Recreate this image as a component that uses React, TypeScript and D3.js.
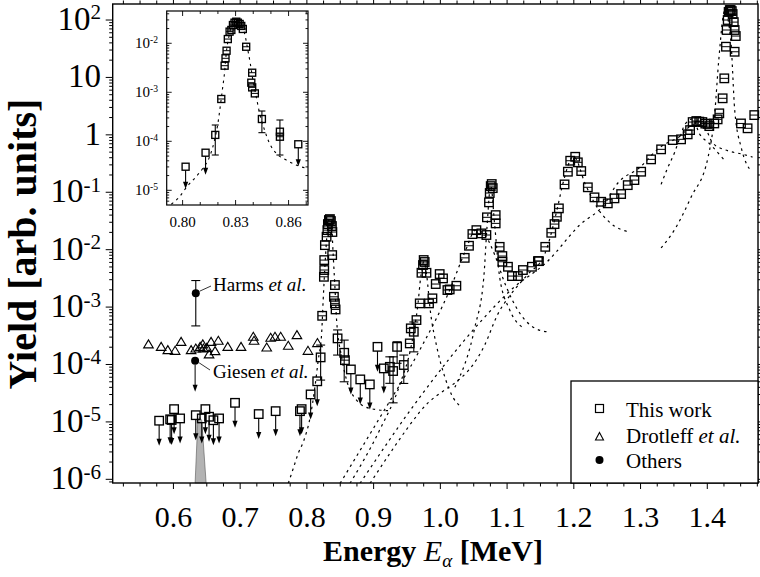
import React from 'react';
import * as d3 from 'd3';

const W = 760;
const H = 577;

// This work, main panel: [E (MeV), yield]
const workPoints: [number, number][] = [
  [0.8229, 7.05e-4], [0.8255, 3.37e-3], [0.826, 4.42e-3], [0.826, 6.59e-3], [0.827, 1.2e-2],
  [0.8295, 1.68e-2], [0.8307, 2.19e-2], [0.8315, 2.79e-2], [0.833, 3.28e-2], [0.8345, 3.41e-2],
  [0.836, 3.15e-2], [0.8375, 2.58e-2], [0.8382, 2.03e-2], [0.8379, 8.05e-3], [0.842, 2.42e-3],
  [0.8405, 1.51e-3], [0.842, 1.16e-3], [0.843, 9.1e-4], [0.857, 1.19e-4],
  [0.9542, 2.33e-4], [0.9557, 4.26e-4], [0.9642, 5.94e-4], [0.9691, 1.16e-3], [0.9717, 3.96e-3],
  [0.974, 5.4e-3], [0.975, 6.6e-3], [0.9765, 6.1e-3], [0.9792, 3.96e-3], [0.983, 1.16e-3],
  [0.9881, 1.42e-3], [0.9931, 2.52e-3], [0.999, 3.76e-3], [1.004, 3.16e-3], [1.0106, 1.98e-3],
  [1.014, 2.03e-3], [1.024, 2.35e-3], [1.0365, 7.2e-3], [1.0429, 1.17e-2], [1.048, 1.87e-2],
  [1.054, 2.19e-2], [1.0615, 1.92e-2], [1.069, 1.8e-2], [1.0698, 3.66e-2], [1.0729, 6.67e-2],
  [1.074, 9.7e-2], [1.0755, 0.128], [1.077, 0.139], [1.0785, 0.118], [1.0829, 4.0e-2],
  [1.0829, 2.87e-2], [1.0889, 1.12e-2], [1.0929, 7.74e-3], [1.0929, 6.16e-3], [1.1013, 5.04e-3],
  [1.1073, 3.47e-3], [1.1162, 3.47e-3], [1.1237, 4.42e-3], [1.1372, 5.04e-3], [1.1462, 6.32e-3],
  [1.1477, 6.32e-3], [1.1572, 1.12e-2], [1.1662, 1.97e-2], [1.1711, 2.79e-2], [1.1746, 3.74e-2],
  [1.1776, 5.24e-2], [1.1861, 0.137], [1.1911, 0.228], [1.1946, 0.354], [1.2021, 0.415],
  [1.206, 0.332], [1.2111, 0.234], [1.221, 0.122], [1.231, 8.15e-2], [1.241, 6.83e-2],
  [1.2509, 6.41e-2], [1.2609, 7.83e-2], [1.2709, 9.31e-2], [1.2808, 0.133], [1.2908, 0.163],
  [1.3009, 0.228], [1.3158, 0.374], [1.3308, 0.559], [1.3482, 0.811], [1.3607, 0.835],
  [1.3706, 1.02], [1.3742, 1.21], [1.3781, 1.67], [1.3836, 1.74], [1.388, 1.7], [1.3926, 1.67],
  [1.397, 1.57], [1.4005, 1.55], [1.403, 1.42], [1.4105, 1.58], [1.4155, 1.86], [1.418, 2.37],
  [1.423, 4.33], [1.4255, 9.64], [1.428, 34.3], [1.429, 67], [1.4306, 100], [1.432, 138],
  [1.4337, 149], [1.435, 149], [1.4367, 143], [1.438, 127], [1.4397, 92], [1.441, 67],
  [1.4427, 52.6], [1.441, 28], [1.4505, 1.58], [1.4604, 1.3], [1.4704, 2.21],
];

// [E, yield, low, high]
const workErrors: [number, number, number, number][] = [
  [0.8206, 1.33e-4, 5.35e-5, 2.18e-4],
  [0.846, 2.85e-4, 1.46e-4, 4.0e-4],
  [0.8559, 1.6e-4, 5.0e-5, 2.66e-4],
  [0.9243, 9.1e-5, 4.7e-5, 1.36e-4],
  [0.9292, 7.7e-5, 2.15e-5, 1.36e-4],
  [0.9352, 2.03e-4, 1.05e-4, 2.49e-4],
  [0.9452, 9.8e-5, 4.68e-5, 1.46e-4],
  [0.9602, 3.72e-4, 1.66e-4, 5.5e-4],
];

// upper limits
const workLimits: [number, number][] = [
  [0.5786, 1.05e-5], [0.5951, 1.11e-5], [0.5973, 1.08e-5], [0.601, 1.67e-5], [0.61, 1.15e-5],
  [0.6335, 1.31e-5], [0.6425, 1.15e-5], [0.6479, 1.67e-5], [0.6534, 1.23e-5], [0.6599, 1.07e-5],
  [0.6684, 1.15e-5], [0.6923, 2.15e-5], [0.7278, 1.37e-5], [0.7532, 1.54e-5], [0.7896, 1.54e-5],
  [0.7921, 1.67e-5], [0.8056, 3.01e-5], [0.8155, 5.1e-5], [0.8659, 8.2e-5], [0.88, 5.5e-5],
  [0.8943, 4.5e-5], [0.9058, 2.03e-4], [0.9153, 8.55e-5],
];

const drotleff: [number, number][] = [
  [0.5626, 2.24e-4], [0.5816, 2.03e-4], [0.5916, 1.78e-4], [0.6025, 1.73e-4], [0.6115, 2.48e-4],
  [0.6265, 1.78e-4], [0.6335, 1.9e-4], [0.64, 2.03e-4], [0.644, 2.24e-4], [0.6449, 1.9e-4],
  [0.65, 1.95e-4], [0.6534, 1.5e-4], [0.6564, 2.48e-4], [0.6624, 1.71e-4], [0.6673, 2.59e-4],
  [0.6814, 2.03e-4], [0.7013, 2.03e-4], [0.7197, 3.04e-4], [0.7208, 2.59e-4], [0.7398, 1.98e-4],
  [0.7457, 2.92e-4], [0.7522, 3.04e-4], [0.7607, 3.04e-4], [0.7721, 2.12e-4], [0.7851, 3.25e-4],
  [0.8016, 1.73e-4], [0.8158, 2.36e-4],
];

const harms: [number, number, number, number] = [0.6335, 1.75e-3, 4.7e-4, 2.9e-3];
const giesen: [number, number] = [0.6325, 1.16e-4];

const greyPeak: [number, number][] = [
  [0.6325, 8e-7], [0.6365, 1.05e-5], [0.6395, 1.2e-5], [0.6425, 1.05e-5], [0.649, 8e-7],
];

// resonance fit curves
const fitCurves: [number, number][][] = [
  [[0.7721, 8.5e-7], [0.7796, 1.55e-6], [0.787, 2.83e-6], [0.7956, 4.82e-6], [0.8046, 1.16e-5],
   [0.8121, 4.09e-5], [0.817, 1.19e-4], [0.8221, 3.48e-4], [0.8244, 1.32e-3], [0.827, 5.04e-3],
   [0.8295, 1.47e-2], [0.8322, 3.03e-2], [0.8345, 3.5e-2], [0.8367, 3.03e-2], [0.8394, 8.05e-3],
   [0.842, 2.26e-3], [0.8445, 5.94e-4], [0.852, 1.36e-4], [0.8595, 5.35e-5], [0.8744, 2.4e-5],
   [0.8943, 1.72e-5], [0.9243, 1.56e-5]],
  [[0.8646, 8.5e-7], [0.9095, 7.4e-6], [0.9394, 4.5e-5], [0.9573, 2.4e-4], [0.9663, 1.1e-3],
   [0.9708, 3.5e-3], [0.9753, 6.2e-3], [0.9798, 3.4e-3], [0.9843, 1.0e-3], [0.9948, 2.0e-4],
   [1.0068, 6.0e-5], [1.0188, 2.7e-5], [1.0293, 1.9e-5]],
  [[0.8497, 8.5e-7], [0.9095, 1.2e-5], [0.9693, 1.8e-4], [1.0142, 2.0e-3], [1.0367, 9.0e-3],
   [1.0532, 2.2e-2], [1.0667, 1.8e-2], [1.0817, 8.0e-3], [1.0966, 2.6e-3], [1.1191, 7.8e-4],
   [1.1431, 4.2e-4], [1.1611, 3.7e-4]],
  [[1.0217, 4.0e-5], [1.0516, 4.4e-4], [1.0651, 3.3e-3], [1.0696, 2.2e-2], [1.0755, 0.13],
   [1.0815, 2.6e-2], [1.0889, 3.3e-3], [1.1038, 9.0e-4], [1.1261, 4.2e-4]],
  [[0.8946, 8.5e-7], [0.9693, 1.5e-5], [1.0666, 2.2e-4], [1.0860, 7.5e-4], [1.1055, 1.66e-3],
   [1.1309, 3.7e-3], [1.1563, 8.3e-3], [1.1757, 5.5e-2], [1.1832, 0.135], [1.1997, 0.42],
   [1.2176, 0.135], [1.2355, 5.3e-2], [1.2550, 2.9e-2], [1.2849, 2.0e-2]],
  [[0.8796, 8.5e-7], [0.9693, 2.7e-5], [1.0592, 5.4e-4], [1.1087, 2.13e-3], [1.1596, 6.1e-3],
   [1.2089, 2.7e-2], [1.2463, 6.3e-2], [1.2643, 0.137], [1.2987, 0.27], [1.3286, 0.6],
   [1.3586, 0.94], [1.3810, 1.55], [1.3960, 1.35], [1.4080, 0.72], [1.4304, 0.53],
   [1.4528, 0.46], [1.4678, 0.41]],
  [[1.3308, 0.137], [1.3402, 0.26], [1.3512, 0.5], [1.3587, 0.88], [1.3662, 1.5], [1.3781, 1.9],
   [1.3881, 1.05], [1.4035, 0.7], [1.4250, 0.37]],
  [[1.3308, 1.07e-2], [1.3507, 2.2e-2], [1.3757, 8.2e-2], [1.4012, 0.41], [1.4112, 2.4],
   [1.4172, 20], [1.4262, 145], [1.4352, 45], [1.4412, 2.6], [1.4512, 0.58], [1.4662, 0.23]],
];

// inset data
const insetPoints: [number, number][] = [
  [0.8219, 7.3e-4], [0.8238, 3.49e-3], [0.8243, 4.94e-3], [0.8249, 7.06e-3], [0.8256, 1.22e-2],
  [0.8266, 1.73e-2], [0.8276, 1.87e-2], [0.8285, 2.36e-2], [0.8294, 2.63e-2], [0.8304, 2.76e-2],
  [0.8313, 2.63e-2], [0.8323, 2.48e-2], [0.8332, 2.26e-2], [0.8341, 1.96e-2], [0.836, 8.5e-3],
  [0.8394, 2.51e-3], [0.8389, 1.57e-3], [0.8394, 1.26e-3], [0.8409, 9.5e-4], [0.8551, 1.24e-4],
];
const insetErrors: [number, number, number, number][] = [
  [0.8185, 1.35e-4, 5.25e-5, 2.15e-4],
  [0.8449, 2.85e-4, 1.5e-4, 4.15e-4],
  [0.8551, 1.57e-4, 5.25e-5, 2.72e-4],
];
const insetLimits: [number, number][] = [
  [0.8017, 3.03e-5], [0.813, 5.85e-5], [0.8655, 8.7e-5],
];
const insetCurve: [number, number][] = [
  [0.7936, 5.2e-6], [0.7983, 7.4e-6], [0.8024, 1.18e-5], [0.8068, 1.76e-5], [0.8115, 2.81e-5],
  [0.8153, 4.85e-5], [0.8181, 1.06e-4], [0.82, 2.33e-4], [0.8213, 5.08e-4], [0.8225, 1.11e-3],
  [0.8238, 2.63e-3], [0.8247, 6.25e-3], [0.8262, 1.36e-2], [0.8276, 2.18e-2], [0.8304, 2.76e-2],
  [0.8332, 2.36e-2], [0.8351, 1.6e-2], [0.8366, 8.5e-3], [0.8383, 3.91e-3], [0.8398, 1.78e-3],
  [0.8417, 8.1e-4], [0.8436, 3.73e-4], [0.8464, 1.7e-4], [0.8492, 9.1e-5], [0.853, 5.7e-5],
  [0.8587, 4.15e-5], [0.8643, 3.28e-5], [0.87, 2.81e-5],
];

const xTicks = [0.6, 0.7, 0.8, 0.9, 1.0, 1.1, 1.2, 1.3, 1.4];
const yExps = [-6, -5, -4, -3, -2, -1, 0, 1, 2];
const insetXTicks = [0.8, 0.83, 0.86];
const insetYExps = [-5, -4, -3, -2];

const FONT = 'Liberation Serif';

function ExpLabel({ e, x, y, size }: { e: number; x: number; y: number; size: number }) {
  if (e === 0) return <text x={x} y={y} textAnchor="end" fontFamily={FONT} fontSize={size}>1</text>;
  if (e === 1) return <text x={x} y={y} textAnchor="end" fontFamily={FONT} fontSize={size}>10</text>;
  return (
    <text x={x} y={y} textAnchor="end" fontFamily={FONT} fontSize={size}>
      10<tspan dy={-size * 0.32} fontSize={size * 0.64}>{e}</tspan>
    </text>
  );
}

function Square({ cx, cy, s, bar }: { cx: number; cy: number; s: number; bar?: boolean }) {
  return (
    <g>
      <rect x={cx - s / 2} y={cy - s / 2} width={s} height={s} fill="none" stroke="#000" strokeWidth={1.35} />
      {bar && <line x1={cx - s / 2} x2={cx + s / 2} y1={cy} y2={cy} stroke="#000" strokeWidth={1} />}
    </g>
  );
}

function Limit({ cx, cy, s, len }: { cx: number; cy: number; s: number; len: number }) {
  const tip = cy + len;
  return (
    <g>
      <Square cx={cx} cy={cy} s={s} />
      <line x1={cx} x2={cx} y1={cy + s / 2} y2={tip - 3} stroke="#000" strokeWidth={1.1} />
      <path d={`M${cx - 2.6},${tip - 7}L${cx + 2.6},${tip - 7}L${cx},${tip}Z`} fill="#000" />
    </g>
  );
}

function ErrBar({ cx, y1, y2, cap }: { cx: number; y1: number; y2: number; cap: number }) {
  return (
    <g stroke="#000" strokeWidth={1.1}>
      <line x1={cx} x2={cx} y1={y1} y2={y2} />
      <line x1={cx - cap} x2={cx + cap} y1={y1} y2={y1} />
      <line x1={cx - cap} x2={cx + cap} y1={y2} y2={y2} />
    </g>
  );
}

export default function App() {
  const left = 112.7, right = 758, top = 4, bottom = 483;
  const x = d3.scaleLinear().domain([0.509, 1.476]).range([left, right]);
  const y = d3.scaleLog().domain([10 ** -6.064, 10 ** 2.279]).range([bottom, top]);

  const il = 166.7, ir = 308, it = 11, ib = 205;
  const xi = d3.scaleLinear().domain([0.791, 0.871]).range([il, ir]);
  const yi = d3.scaleLog().domain([10 ** -5.3, 10 ** -1.341]).range([ib, it]);

  const line = d3.line<[number, number]>().x(d => x(d[0])).y(d => y(d[1])).curve(d3.curveMonotoneX);
  const lineI = d3.line<[number, number]>().x(d => xi(d[0])).y(d => yi(d[1])).curve(d3.curveMonotoneX);
  const area = d3.area<[number, number]>().x(d => x(d[0])).y0(bottom).y1(d => Math.min(bottom, y(d[1])));

  const minorX = d3.range(0.525, 1.476, 0.025).filter(v => Math.abs(Math.round(v * 10) / 10 - v) > 1e-6);
  const minorY: number[] = [];
  for (let e = -7; e <= 2; e++) for (let m = 2; m <= 9; m++) {
    const v = m * 10 ** e;
    if (v > y.domain()[0] && v < y.domain()[1]) minorY.push(v);
  }
  const minorYI: number[] = [];
  for (let e = -6; e <= -2; e++) for (let m = 2; m <= 9; m++) {
    const v = m * 10 ** e;
    if (v > yi.domain()[0] && v < yi.domain()[1]) minorYI.push(v);
  }
  const minorXI = d3.range(0.80, 0.871, 0.01).filter(v => !insetXTicks.some(t => Math.abs(t - v) < 1e-6));

  return (
    <svg width={W} height={H} style={{ position: 'absolute', left: 0, top: 0, background: '#fff' }}>
      <rect width={W} height={H} fill="#fff" />
      <defs>
        <clipPath id="plot"><rect x={left} y={top} width={right - left} height={bottom - top} /></clipPath>
        <clipPath id="inset"><rect x={il} y={it} width={ir - il} height={ib - it} /></clipPath>
      </defs>

      {/* grey shaded peak */}
      <path d={area(greyPeak) || ''} fill="#b3b3b3" stroke="#555" strokeWidth={0.6} />

      {/* fit curves */}
      <g clipPath="url(#plot)" fill="none" stroke="#000" strokeWidth={1.2} strokeDasharray="2.5,4">
        {fitCurves.map((c, i) => <path key={i} d={line(c) || ''} />)}
      </g>

      {/* Drotleff triangles */}
      {drotleff.map((d, i) => {
        const cx = x(d[0]), cy = y(d[1]);
        return <path key={i} d={`M${cx},${cy - 4.5}L${cx + 4.8},${cy + 3.5}L${cx - 4.8},${cy + 3.5}Z`} fill="none" stroke="#000" strokeWidth={1.1} />;
      })}

      {/* this work */}
      {workLimits.map((d, i) => <Limit key={i} cx={x(d[0])} cy={y(d[1])} s={8.5} len={25} />)}
      {workErrors.map((d, i) => (
        <g key={i}>
          <ErrBar cx={x(d[0])} y1={y(d[3])} y2={y(d[2])} cap={4.5} />
          <Square cx={x(d[0])} cy={y(d[1])} s={8.5} />
        </g>
      ))}
      {workPoints.map((d, i) => <Square key={i} cx={x(d[0])} cy={y(d[1])} s={8.5} bar />)}

      {/* others */}
      <ErrBar cx={x(harms[0])} y1={y(harms[3])} y2={y(harms[2])} cap={4.5} />
      <circle cx={x(harms[0])} cy={y(harms[1])} r={4} fill="#000" />
      <line x1={x(harms[0]) + 4} y1={y(harms[1]) - 2} x2={211} y2={286} stroke="#000" strokeWidth={0.8} />
      <text x={213} y={291} fontFamily={FONT} fontSize={19}>Harms <tspan fontStyle="italic">et al.</tspan></text>

      <circle cx={x(giesen[0])} cy={y(giesen[1])} r={4} fill="#000" />
      <line x1={x(giesen[0])} x2={x(giesen[0])} y1={y(giesen[1]) + 4} y2={y(giesen[1]) + 28} stroke="#000" strokeWidth={1} />
      <path d={`M${x(giesen[0]) - 2.5},${y(giesen[1]) + 24}L${x(giesen[0]) + 2.5},${y(giesen[1]) + 24}L${x(giesen[0])},${y(giesen[1]) + 31}Z`} fill="#000" />
      <line x1={x(giesen[0]) + 4} y1={y(giesen[1]) + 2} x2={210} y2={370} stroke="#000" strokeWidth={0.8} />
      <text x={213} y={378} fontFamily={FONT} fontSize={19}>Giesen <tspan fontStyle="italic">et al.</tspan></text>

      {/* frame and ticks */}
      <rect x={left} y={top} width={right - left} height={bottom - top} fill="none" stroke="#000" strokeWidth={1.4} />
      <g stroke="#000" strokeWidth={1}>
        {xTicks.map(t => (
          <g key={t}>
            <line x1={x(t)} x2={x(t)} y1={bottom} y2={bottom + 6} />
            <line x1={x(t)} x2={x(t)} y1={top} y2={top - 6} />
          </g>
        ))}
        {minorX.map(t => (
          <g key={t}>
            <line x1={x(t)} x2={x(t)} y1={bottom} y2={bottom + 3.5} />
            <line x1={x(t)} x2={x(t)} y1={top} y2={top - 3.5} />
          </g>
        ))}
        {yExps.map(e => (
          <g key={e}>
            <line x1={left} x2={left - 7} y1={y(10 ** e)} y2={y(10 ** e)} />
            <line x1={right} x2={right + 7} y1={y(10 ** e)} y2={y(10 ** e)} />
          </g>
        ))}
        {minorY.map(v => (
          <g key={v}>
            <line x1={left} x2={left - 3.5} y1={y(v)} y2={y(v)} />
            <line x1={right} x2={right + 3.5} y1={y(v)} y2={y(v)} />
          </g>
        ))}
      </g>
      {xTicks.map(t => (
        <text key={t} x={x(t)} y={527} textAnchor="middle" fontFamily={FONT} fontSize={30}>{t.toFixed(1)}</text>
      ))}
      {yExps.map(e => <ExpLabel key={e} e={e} x={101} y={y(10 ** e) + 10} size={33} />)}

      <text x={433} y={561} textAnchor="middle" fontFamily={FONT} fontSize={30} fontWeight="bold">
        Energy <tspan fontStyle="italic" fontWeight="normal">E</tspan><tspan fontStyle="italic" fontWeight="normal" fontSize={19} dy={6}>α</tspan><tspan dy={-6}> [MeV]</tspan>
      </text>
      <text transform="translate(36,244) rotate(-90)" textAnchor="middle" fontFamily={FONT} fontSize={40} fontWeight="bold">Yield [arb. units]</text>

      {/* legend */}
      <rect x={571} y={381} width={right - 571} height={bottom - 381} fill="#fff" stroke="#000" strokeWidth={1.3} />
      <rect x={595.5} y={404.5} width={8} height={8} fill="none" stroke="#000" strokeWidth={1.2} />
      <path d="M599.5,432.5L603.5,440L595.5,440Z" fill="none" stroke="#000" strokeWidth={1.1} />
      <circle cx={599.5} cy={460} r={4} fill="#000" />
      <text x={626} y={416.5} fontFamily={FONT} fontSize={21}>This work</text>
      <text x={626} y={442.5} fontFamily={FONT} fontSize={21}>Drotleff <tspan fontStyle="italic">et al.</tspan></text>
      <text x={626} y={468} fontFamily={FONT} fontSize={21}>Others</text>

      {/* inset */}
      <rect x={il} y={it} width={ir - il} height={ib - it} fill="#fff" stroke="#000" strokeWidth={1.2} />
      <path d={lineI(insetCurve) || ''} clipPath="url(#inset)" fill="none" stroke="#000" strokeWidth={1.1} strokeDasharray="2.5,4" />
      {insetLimits.map((d, i) => <Limit key={i} cx={xi(d[0])} cy={yi(d[1])} s={7} len={22} />)}
      {insetErrors.map((d, i) => (
        <g key={i}>
          <ErrBar cx={xi(d[0])} y1={yi(d[3])} y2={yi(d[2])} cap={3.5} />
          <Square cx={xi(d[0])} cy={yi(d[1])} s={7} />
        </g>
      ))}
      {insetPoints.map((d, i) => <Square key={i} cx={xi(d[0])} cy={yi(d[1])} s={7} bar />)}
      <g stroke="#000" strokeWidth={0.9}>
        {insetXTicks.map(t => (
          <g key={t}>
            <line x1={xi(t)} x2={xi(t)} y1={ib} y2={ib - 5} />
            <line x1={xi(t)} x2={xi(t)} y1={it} y2={it + 5} />
          </g>
        ))}
        {minorXI.map(t => (
          <g key={t}>
            <line x1={xi(t)} x2={xi(t)} y1={ib} y2={ib - 3} />
            <line x1={xi(t)} x2={xi(t)} y1={it} y2={it + 3} />
          </g>
        ))}
        {insetYExps.map(e => (
          <g key={e}>
            <line x1={il} x2={il + 5} y1={yi(10 ** e)} y2={yi(10 ** e)} />
            <line x1={ir} x2={ir - 5} y1={yi(10 ** e)} y2={yi(10 ** e)} />
          </g>
        ))}
        {minorYI.map(v => (
          <g key={v}>
            <line x1={il} x2={il + 2.5} y1={yi(v)} y2={yi(v)} />
            <line x1={ir} x2={ir - 2.5} y1={yi(v)} y2={yi(v)} />
          </g>
        ))}
      </g>
      {insetXTicks.map(t => (
        <text key={t} x={xi(t)} y={227} textAnchor="middle" fontFamily={FONT} fontSize={15}>{t.toFixed(2)}</text>
      ))}
      {insetYExps.map(e => <ExpLabel key={e} e={e} x={158} y={yi(10 ** e) + 5} size={15} />)}
    </svg>
  );
}
